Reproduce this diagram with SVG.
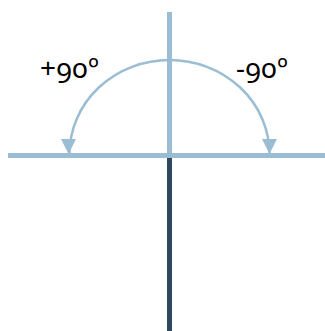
<svg xmlns="http://www.w3.org/2000/svg" width="325" height="331" viewBox="0 0 325 331">
  <style>
    .axis { stroke: #9bbdd4; stroke-width: 5; fill: none; }
    .down { stroke: #2e4a5f; stroke-width: 5; fill: none; }
    .arc { stroke: #9bbdd4; stroke-width: 2.5; fill: none; }
    .head { fill: #9bbdd4; }
    .lbl { font-family: "Noto Sans", "Open Sans", "Liberation Sans", sans-serif; font-size: 28px; fill: #000; font-variant-numeric: oldstyle-nums; font-feature-settings: "onum" 1; letter-spacing: 0.5px; }
  </style>
  <g id="connectors">
    <line id="horizontal" class="axis" x1="8" y1="155.5" x2="325" y2="155.5"/>
    <line id="vertical-up" class="axis" x1="169.5" y1="12" x2="169.5" y2="155.5"/>
    <line id="vertical-down" class="down" x1="169.5" y1="158" x2="169.5" y2="331"/>
    <path id="arc" class="arc" d="M69.5,154 A100,94 0 0 1 269.5,154"/>
    <polygon class="head" points="61,139 76,139 68.5,154"/>
    <polygon class="head" points="262,139 277,139 269.5,154"/>
  </g>
  <g id="label-plus">
    <text class="lbl" x="40" y="78">+90º</text>
  </g>
  <g id="label-minus">
    <text class="lbl" x="236" y="78">-90º</text>
  </g>
</svg>
